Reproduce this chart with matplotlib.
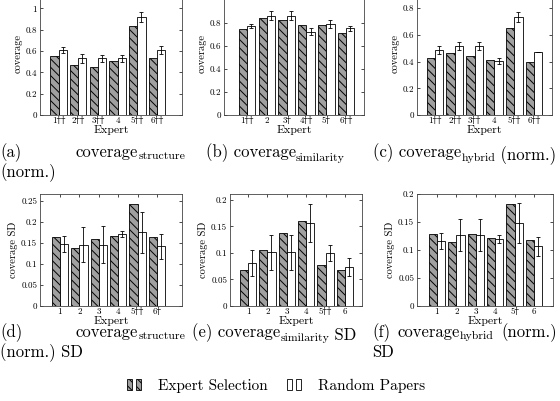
import matplotlib
matplotlib.use("Agg")
import matplotlib.pyplot as plt
import numpy as np
from matplotlib.ticker import FuncFormatter
from matplotlib.legend_handler import HandlerTuple

plt.rcParams['font.family'] = ['cmr10', 'DejaVu Serif']
plt.rcParams['mathtext.fontset'] = 'cm'
plt.rcParams['hatch.linewidth'] = 0.7
plt.rcParams['axes.unicode_minus'] = False

D = '\u2020'

# tick labels per panel
labels_a = ['1' + D * 2, '2' + D * 2, '3' + D * 2, '4', '5' + D * 2, '6' + D * 2]
labels_b = ['1' + D * 2, '2', '3' + D, '4' + D * 2, '5' + D, '6' + D * 2]
labels_c = ['1' + D * 2, '2' + D * 2, '3' + D * 2, '4', '5' + D * 2, '6' + D * 2]
labels_d = ['1', '2', '3', '4', '5' + D * 2, '6' + D]
labels_e = ['1', '2', '3', '4', '5' + D * 2, '6']
labels_f = ['1', '2', '3', '4', '5' + D, '6']

# coverage (top row)
a_exp = [0.55, 0.47, 0.45, 0.51, 0.83, 0.53]
a_rnd = [0.61, 0.53, 0.53, 0.53, 0.92, 0.61]
a_err = [0.03, 0.045, 0.03, 0.03, 0.045, 0.035]

b_exp = [0.745, 0.84, 0.83, 0.785, 0.78, 0.71]
b_rnd = [0.775, 0.865, 0.865, 0.725, 0.795, 0.755]
b_err = [0.015, 0.04, 0.04, 0.03, 0.035, 0.02]

c_exp = [0.425, 0.465, 0.445, 0.415, 0.65, 0.40]
c_rnd = [0.485, 0.52, 0.52, 0.405, 0.735, 0.47]
c_err = [0.03, 0.03, 0.03, 0.02, 0.04, 0.0]

# coverage SD (bottom row)
d_exp = [0.163, 0.137, 0.158, 0.167, 0.242, 0.165]
d_rnd = [0.148, 0.146, 0.146, 0.170, 0.175, 0.142]
d_err = [0.019, 0.041, 0.045, 0.007, 0.049, 0.03]

e_exp = [0.067, 0.106, 0.138, 0.161, 0.077, 0.068]
e_rnd = [0.081, 0.101, 0.101, 0.156, 0.100, 0.073]
e_err = [0.025, 0.033, 0.033, 0.036, 0.015, 0.017]

f_exp = [0.128, 0.115, 0.129, 0.121, 0.182, 0.117]
f_rnd = [0.116, 0.127, 0.127, 0.119, 0.148, 0.107]
f_err = [0.014, 0.028, 0.029, 0.007, 0.036, 0.017]

W, H = 560, 401
fig = plt.figure(figsize=(W / 100, H / 100), dpi=100)


def make_ax(l, t, r, b):
    return fig.add_axes([l / W, 1 - b / H, (r - l) / W, (b - t) / H])


panels = [
    # box px, xlim, ylim, yticks, labels, data, ylabel
    ((40, -8, 182, 115), (0.06, 7.27), (0, 1.153), np.arange(0, 1.01, 0.2), labels_a, a_exp, a_rnd, a_err, 'coverage'),
    ((224, -8, 364, 115), (-0.16, 6.9), (0, 1.07), np.arange(0, 0.81, 0.2), labels_b, b_exp, b_rnd, b_err, 'coverage'),
    ((417, -8, 552, 115), (0.09, 6.91), (0, 0.922), np.arange(0, 0.81, 0.2), labels_c, c_exp, c_rnd, c_err, 'coverage'),
    ((40, 194, 182, 306), (-0.03, 7.29), (0, 0.266), np.arange(0, 0.251, 0.05), labels_d, d_exp, d_rnd, d_err, 'coverage SD'),
    ((230, 194, 362, 306), (0.07, 6.88), (0, 0.211), np.arange(0, 0.201, 0.05), labels_e, e_exp, e_rnd, e_err, 'coverage SD'),
    ((417, 194, 553, 306), (-0.03, 6.98), (0, 0.2), np.arange(0, 0.201, 0.05), labels_f, f_exp, f_rnd, f_err, 'coverage SD'),
]

w = 0.42
handles = None
for box, xl, yl, yt, labs, ex, rn, er, ylab in panels:
    ax = make_ax(*box)
    x = np.arange(1, 7)
    be = ax.bar(x - w / 2, ex, w, facecolor='#a0a0a0', edgecolor='black',
                hatch='\\\\\\\\', linewidth=0.6)
    br = ax.bar(x + w / 2, rn, w, facecolor='white', edgecolor='black', linewidth=0.6)
    ax.errorbar(x + w / 2, rn, yerr=er, fmt='none', ecolor='black',
                elinewidth=0.6, capsize=1.5, capthick=0.6)
    if handles is None:
        handles = [(be[0], be[1]), (br[0], br[1])]
    ax.set_xlim(*xl)
    ax.set_ylim(*yl)
    ax.set_xticks(x)
    ax.set_xticklabels(labs)
    ax.set_yticks(yt)
    ax.yaxis.set_major_formatter(FuncFormatter(lambda v, p: '%g' % round(v, 3)))
    ax.tick_params(direction='in', length=2, width=0.5, labelsize=6.5, pad=2,
                   top=True, right=True)
    ax.tick_params(axis='x', pad=1.5)
    for s in ax.spines.values():
        s.set_linewidth(0.6)
        s.set_color('#444444')
    ax.set_xlabel('Expert', fontsize=8.5, labelpad=-0.5)
    ax.set_ylabel(ylab, fontsize=7.5, labelpad=2)

# captions: main text, a lowered subscript, optional tail
cf, sf = 12, 8.5


def sub_caption(x, y, head, sub, tail=''):
    t = fig.text(x / W, y, head, fontsize=cf)
    a = fig.add_artist(plt.Annotation(sub, xy=(1, 0), xycoords=t,
                                      xytext=(0, 0.5), textcoords='offset points',
                                      fontsize=sf, va='baseline'))
    if tail:
        fig.add_artist(plt.Annotation(tail, xy=(1, 0), xycoords=a,
                                      xytext=(0, 2.3), textcoords='offset points',
                                      fontsize=cf, va='baseline'))
    return t


r1, r2 = 1 - 157 / H, 1 - 177 / H
s1, s2 = 1 - 337 / H, 1 - 357 / H

fig.text(0 / W, r1, '(a)', fontsize=cf)
sub_caption(76, r1, 'coverage', 'structure')
fig.text(0 / W, r2, '(norm.)', fontsize=cf)
sub_caption(206, r1, '(b) coverage', 'similarity')
sub_caption(373, r1, '(c) coverage', 'hybrid', ' (norm.)')

fig.text(0 / W, s1, '(d)', fontsize=cf)
sub_caption(76, s1, 'coverage', 'structure')
fig.text(0 / W, s2, '(norm.) SD', fontsize=cf)
sub_caption(192, s1, '(e) coverage', 'similarity', ' SD')
fig.text(372 / W, s1, '(f)', fontsize=cf)
sub_caption(397, s1, 'coverage', 'hybrid')
fig.text(557 / W, s1, '(norm.)', fontsize=cf, ha='right')
fig.text(372 / W, s2, 'SD', fontsize=cf)

fig.legend(handles, ['Expert Selection', 'Random Papers'],
           handler_map={tuple: HandlerTuple(ndivide=None, pad=0.3)},
           loc='center', bbox_to_anchor=(0.493, 1 - 386 / H), ncol=2,
           frameon=False, fontsize=11, handlelength=0.9, handleheight=0.7,
           columnspacing=1.3, handletextpad=1.1)

fig.savefig('out.png', dpi=100)
